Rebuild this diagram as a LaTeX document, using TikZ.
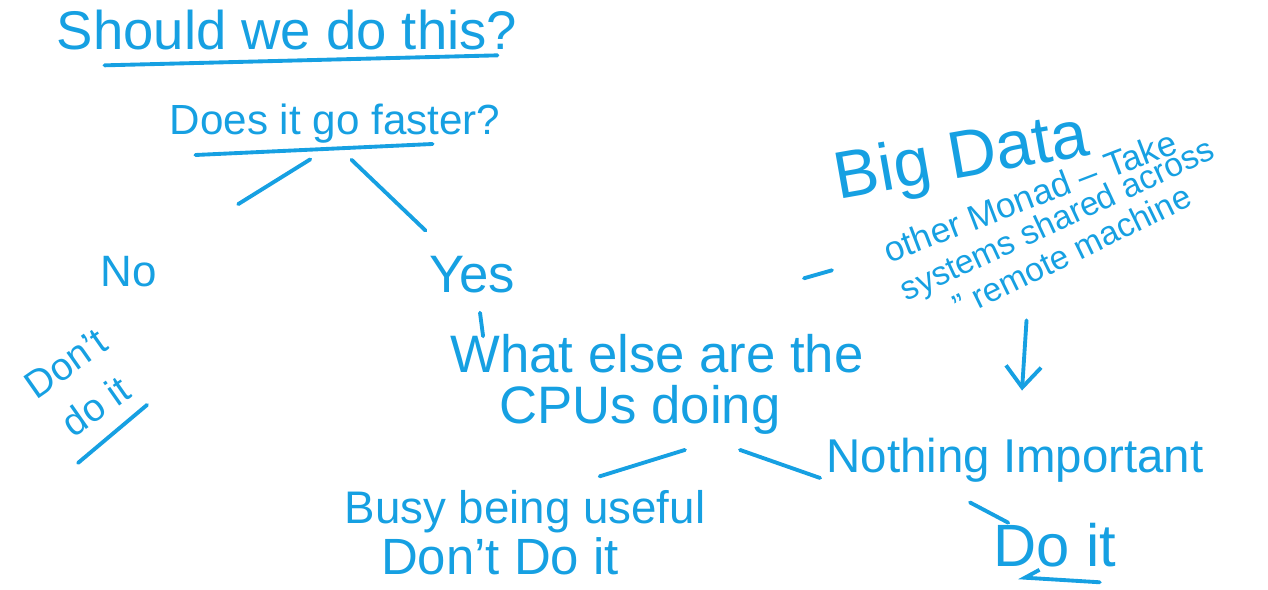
\documentclass[tikz,border=0pt]{standalone}
\usepackage{fontspec}
\setmainfont{Liberation Sans}
\usetikzlibrary{calc,arrows.meta}
\definecolor{ink}{RGB}{22,160,226}
\tikzset{
  pen/.style={ink,line width=2.2pt,line cap=round,line join=round},
  txt/.style={text=ink,inner sep=0pt,font=\fontsize{#1}{#1}\selectfont},
}
\begin{document}
\begin{tikzpicture}[x=0.02cm,y=-0.02cm]
\useasboundingbox (0,0) rectangle (1268,590);
% question tree
\node[txt=31pt] (title) at (287,30) {Should we do this?};
\node[txt=24pt] (q) at (335,124) {Does it go faster?};
\node[txt=25pt] (no) at (129,272) {No};
\node[txt=30pt] (yes) at (472,275) {Yes};
\node[txt=22pt,align=center,rotate=35,font=\fontsize{22pt}{30pt}\selectfont] (dont) at (81,385) {Don't\\do it};
\node[txt=30pt] (what) at (657,354) {What else are the};
\node[txt=30pt] (cpu) at (640,410) {CPUs doing};
\node[txt=26pt] (busy) at (525,512) {Busy being useful};
\node[txt=29pt] (dontdo) at (500,556) {Don't Do it};
\node[txt=27pt] (nothing) at (1015,460) {Nothing Important};
\node[txt=34pt] (doit) at (1055,545) {Do it};
% big data note
\node[txt=38pt,rotate=10] (big) at (962,160) {Big Data};
\node[txt=20pt,rotate=21] (monad) at (1030,196) {other Monad -- Take};
\node[txt=19pt,rotate=25] (systems) at (1058,222) {systems shared across};
\node[txt=19pt,rotate=26] (remote) at (1072,251) {'' remote machine};
% strokes
\draw[pen] ($(title.south west)+(48,15)$) -- ($(title.south east)+(-20,5)$);
\draw[pen] ($(q.south west)+(26,11)$) -- ($(q.south east)+(-68,0)$);
\draw[pen] ($(q.south)!0.12!(no)$) -- ($(q.south)!0.47!(no)$);
\draw[pen] ($(q.south)!0.12!(yes)$) -- ($(q.south)!0.66!(yes)$);
\draw[pen] ($(yes.south)+(8,19)$) -- ($(what.north west)+(33,2)$);
\draw[pen] ($(dont.south)+(-26,45)$) -- ++(69,-58);
\draw[pen] ($(cpu.south east)+(-96,15)$) -- ($(busy.north east)+(-106,-14)$);
\draw[pen] ($(cpu.south east)+(-41,15)$) -- ($(nothing.west)+(-6,18)$);
\draw[pen] ($(nothing.south)+(-45,20)$) -- ($(doit.north west)+(15,0)$);
\draw[pen,-{Straight Barb[harpoon,swap,length=8pt,width=10pt]}] ($(doit.south east)+(-17,15)$) -- ($(doit.south west)+(25,10)$);
\draw[pen] ($(systems.west)+(-99,-16)$) -- ++(28,-8);
\draw[pen,-{Straight Barb[length=12pt,width=20pt]}] ($(remote.south)+(-51,58)$) -- ($(nothing.north)+(7,-47)$);
\end{tikzpicture}
\end{document}
